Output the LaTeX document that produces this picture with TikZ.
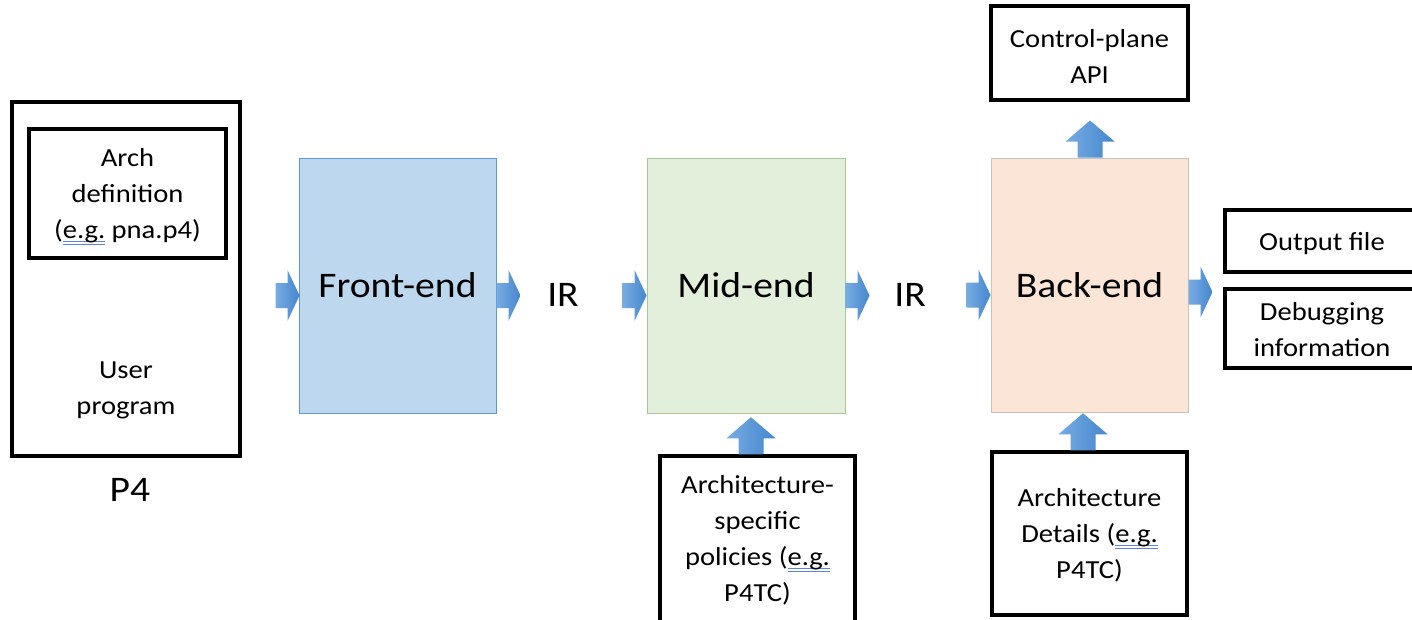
\documentclass[tikz,border=0pt]{standalone}
\usepackage{fontspec}
\setmainfont{Carlito}[FakeStretch=1.1]
\usetikzlibrary{calc}
\definecolor{frontfill}{HTML}{BDD7EE}
\definecolor{frontline}{HTML}{5B9BD5}
\definecolor{midfill}{HTML}{E2EFDA}
\definecolor{midline}{HTML}{A9C59A}
\definecolor{backfill}{HTML}{FBE5D6}
\definecolor{backline}{HTML}{C9C2BC}
\definecolor{arrL}{RGB}{120,172,226}
\definecolor{arrR}{RGB}{68,134,206}
\definecolor{ulblue}{RGB}{90,130,230}
\newsavebox\myulbox
\newcommand\spellul[1]{\sbox\myulbox{#1}\rlap{\textcolor{ulblue}{\rule[-0.25ex]{\wd\myulbox}{0.8pt}}}\rlap{\textcolor{ulblue}{\rule[-0.5ex]{\wd\myulbox}{0.8pt}}}\usebox\myulbox}
\tikzset{
  blackbox/.style={draw=black, line width=3.5pt, rectangle, inner sep=0pt},
  stagebox/.style={rectangle, line width=1pt, inner sep=0pt, font=\fontsize{36}{40}\selectfont},
  bigtext/.style={font=\fontsize{36}{40}\selectfont, inner sep=0pt},
  smalltext/.style={font=\fontsize{26}{36}\selectfont, align=center, inner sep=0pt},
  arrowfill/.style={left color=arrL, right color=arrR, draw=none},
  rarrow/.pic={\path[arrowfill] (0,-12.5) -- (12,-12.5) -- (12,-25.5) -- (24,0) -- (12,25.5) -- (12,12.5) -- (0,12.5) -- cycle;},
  uarrow/.pic={\path[arrowfill] (-12.5,0) -- (-12.5,-16) -- (-24.5,-16) -- (0,-37) -- (24.5,-16) -- (12.5,-16) -- (12.5,0) -- cycle;}
}
\begin{document}
\begin{tikzpicture}[x=1pt,y=-1pt]
\useasboundingbox (0,0) rectangle (1412,619);
\clip (0,0) rectangle (1412,619);
\fill[white] (0,0) rectangle (1412,619);

% P4 program box
\node[blackbox, minimum width=228pt, minimum height=354pt] (p4box) at (126,279) {};
\node[blackbox, minimum width=197pt, minimum height=129pt] (archdef) at (127.5,193.5) {};
\node[smalltext] (archdeftext) at (127.5,196.5) {Arch\\definition\\(\spellul{e.g.} pna.p4)};
\node[smalltext] (user) at (126,390) {User\\program};
\node[bigtext] (p4) at (130,490) {P4};

% stages
\node[stagebox, draw=frontline, fill=frontfill, minimum width=197pt, minimum height=255pt] (front) at (397.5,285.5) {Front-end};
\node[bigtext] (ir1) at (563,295) {IR};
\node[stagebox, draw=midline, fill=midfill, minimum width=198pt, minimum height=255pt] (mid) at (746,285.5) {Mid-end};
\node[bigtext] (ir2) at (910,295) {IR};
\node[stagebox, draw=backline, fill=backfill, minimum width=197pt, minimum height=254pt] (back) at (1089.5,285) {Back-end};

% side boxes
\node[blackbox, minimum width=197pt, minimum height=94pt] (cpapi) at (1089.5,53) {};
\node[smalltext] (cpapitext) at (1089.5,56) {Control-plane\\API};
\node[blackbox, minimum width=195pt, minimum height=163pt] (archdet) at (1089.5,533.5) {};
\node[smalltext] (archdettext) at (1089.5,535.5) {Architecture\\Details (\spellul{e.g.}\\P4TC)};
\node[blackbox, minimum width=195pt, minimum height=172pt] (archpol) at (757.5,542) {};
\node[smalltext] (archpoltext) at (757.5,540) {Architecture-\\specific\\policies (\spellul{e.g.}\\P4TC)};
\node[blackbox, minimum width=200pt, minimum height=62pt] (outfile) at (1325,241) {};
\node[smalltext] (outfiletext) at (1322,243.5) {Output file};
\node[blackbox, minimum width=200pt, minimum height=79pt] (debug) at (1325,328.5) {};
\node[smalltext] (debugtext) at (1322,329.5) {Debugging\\information};

% block arrows
\pic at ($(front.west)+(-23,10)$) {rarrow};
\pic at ($(front.east)+(0,10)$) {rarrow};
\pic at ($(mid.west)+(-24,10)$) {rarrow};
\pic at ($(mid.east)+(0,10)$) {rarrow};
\pic at ($(back.west)+(-24,10)$) {rarrow};
\pic at ($(back.east)+(0,7)$) {rarrow};
\pic at ($(back.north)+(0.5,0)$) {uarrow};
\pic at ($(archdet.north)+(-6.5,0)$) {uarrow};
\pic at ($(archpol.north)+(-6.5,0)$) {uarrow};
\end{tikzpicture}
\end{document}
